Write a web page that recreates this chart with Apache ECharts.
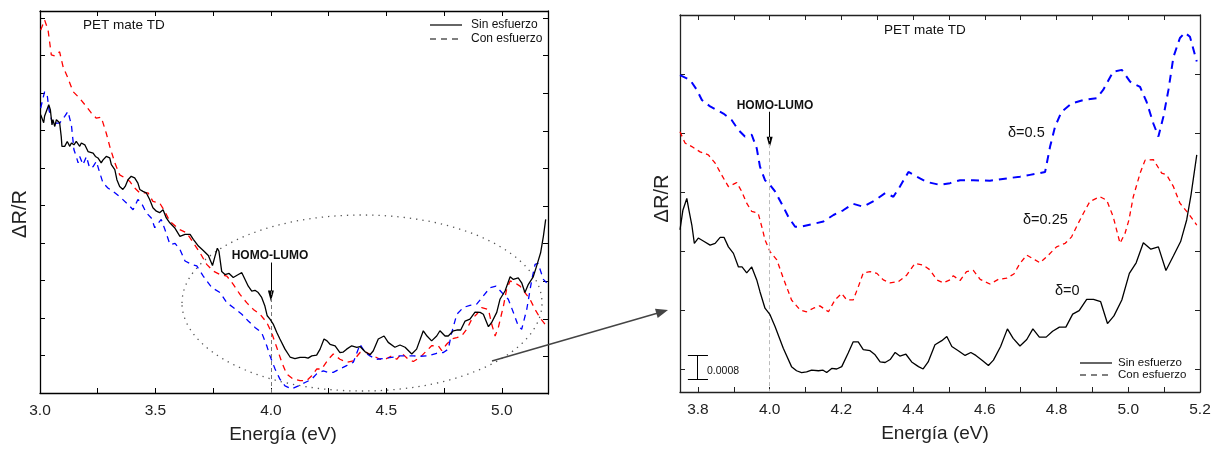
<!DOCTYPE html>
<html>
<head>
<meta charset="utf-8">
<script src="https://cdn.jsdelivr.net/npm/echarts@6/dist/echarts.min.js"></script>
<style>
html,body{margin:0;padding:0;background:#fff;}
#c{width:1226px;height:449px;}
</style>
</head>
<body>
<div id="c"></div>
<script>
// ---------- DATA (energy eV, ΔR/R arbitrary units) ----------
// Left panel: full spectrum
const leftSin = [[3.003,7.42],[3.016,7.21],[3.020,7.39],[3.038,7.69],[3.045,7.55],[3.052,7.15],[3.056,7.29],[3.064,7.11],[3.071,7.29],[3.085,7.21],[3.092,6.84],[3.095,6.58],[3.107,6.58],[3.118,6.71],[3.129,6.58],[3.136,6.67],[3.147,6.62],[3.157,6.71],[3.165,6.76],[3.172,6.58],[3.179,6.67],[3.194,6.62],[3.208,6.44],[3.230,6.40],[3.240,6.31],[3.251,6.27],[3.265,6.14],[3.273,6.22],[3.287,6.31],[3.302,6.27],[3.309,6.09],[3.324,5.96],[3.333,5.69],[3.345,5.51],[3.359,5.43],[3.369,5.51],[3.381,5.69],[3.395,5.78],[3.410,5.74],[3.424,5.60],[3.432,5.43],[3.446,5.38],[3.460,5.34],[3.475,5.16],[3.489,4.94],[3.504,4.85],[3.518,4.81],[3.533,4.89],[3.547,4.67],[3.562,4.54],[3.583,4.41],[3.606,4.18],[3.628,4.23],[3.650,4.23],[3.664,4.10],[3.686,3.92],[3.707,3.80],[3.729,3.67],[3.747,3.40],[3.758,3.65],[3.768,3.86],[3.775,3.78],[3.787,3.24],[3.801,3.16],[3.819,3.19],[3.837,3.08],[3.859,3.16],[3.874,3.21],[3.888,3.03],[3.902,2.85],[3.917,2.72],[3.931,2.74],[3.945,2.68],[3.960,2.55],[3.974,2.32],[3.984,2.06],[3.996,1.97],[4.010,1.84],[4.025,1.62],[4.039,1.44],[4.061,1.17],[4.083,0.96],[4.104,0.92],[4.126,0.95],[4.148,0.95],[4.161,0.93],[4.177,0.99],[4.198,1.01],[4.213,1.17],[4.230,1.44],[4.243,1.39],[4.256,1.30],[4.278,1.26],[4.299,1.08],[4.312,1.09],[4.328,1.17],[4.350,1.26],[4.372,1.22],[4.386,1.24],[4.408,1.10],[4.429,1.02],[4.443,1.12],[4.465,1.44],[4.490,1.52],[4.508,1.35],[4.537,1.22],[4.559,1.28],[4.581,1.22],[4.610,1.04],[4.631,1.17],[4.660,1.66],[4.676,1.52],[4.696,1.39],[4.718,1.52],[4.732,1.66],[4.754,1.52],[4.768,1.52],[4.790,1.66],[4.805,1.68],[4.822,1.68],[4.841,1.92],[4.862,1.97],[4.884,2.16],[4.906,2.15],[4.920,2.10],[4.942,1.77],[4.956,1.88],[4.978,2.15],[4.992,2.50],[5.014,2.72],[5.036,3.10],[5.050,3.03],[5.071,3.07],[5.086,2.94],[5.100,2.68],[5.115,2.90],[5.136,3.10],[5.151,3.39],[5.168,3.74],[5.180,4.18],[5.190,4.63]];
const leftConRed = [[3.003,9.68],[3.020,9.95],[3.035,9.68],[3.049,9.02],[3.064,8.99],[3.085,9.10],[3.100,8.70],[3.121,8.40],[3.143,8.04],[3.172,7.86],[3.201,7.64],[3.222,7.47],[3.244,7.33],[3.265,7.36],[3.287,6.93],[3.302,6.58],[3.324,6.14],[3.345,5.82],[3.367,5.74],[3.388,5.65],[3.410,5.47],[3.432,5.34],[3.468,5.34],[3.489,5.11],[3.518,5.07],[3.540,4.85],[3.562,4.58],[3.605,4.36],[3.635,4.27],[3.664,4.01],[3.693,3.74],[3.722,3.43],[3.751,3.25],[3.780,3.16],[3.809,3.12],[3.837,2.90],[3.866,2.63],[3.895,2.41],[3.924,2.23],[3.953,2.10],[3.982,1.88],[4.003,1.61],[4.025,1.22],[4.047,0.82],[4.068,0.51],[4.097,0.37],[4.126,0.33],[4.155,0.33],[4.177,0.46],[4.198,0.64],[4.220,0.64],[4.249,0.90],[4.270,1.04],[4.299,0.90],[4.328,0.82],[4.357,0.86],[4.386,1.08],[4.415,1.08],[4.443,0.99],[4.473,0.90],[4.502,0.92],[4.523,0.99],[4.545,0.90],[4.567,1.06],[4.595,0.90],[4.617,0.84],[4.646,0.95],[4.675,1.13],[4.696,1.26],[4.725,1.26],[4.740,1.13],[4.761,1.30],[4.783,1.44],[4.805,1.48],[4.826,1.52],[4.848,1.70],[4.870,1.97],[4.891,2.10],[4.913,2.28],[4.942,2.23],[4.956,1.84],[4.971,1.52],[4.985,1.75],[5.007,2.32],[5.021,2.77],[5.036,2.99],[5.057,2.94],[5.079,2.85],[5.100,2.68],[5.122,2.50],[5.144,2.23],[5.165,2.01],[5.190,1.81]];
const leftConBlue = [[3.003,7.60],[3.020,8.04],[3.032,7.91],[3.039,7.55],[3.056,7.15],[3.071,7.20],[3.085,7.20],[3.107,7.38],[3.121,7.51],[3.136,7.15],[3.147,6.49],[3.157,6.31],[3.165,6.14],[3.172,6.31],[3.186,6.09],[3.201,6.31],[3.215,6.00],[3.230,6.04],[3.244,6.18],[3.259,5.87],[3.273,5.60],[3.294,5.47],[3.324,5.34],[3.352,5.20],[3.381,5.03],[3.403,4.89],[3.424,5.16],[3.439,5.07],[3.460,4.81],[3.482,4.67],[3.497,4.41],[3.504,4.41],[3.525,4.63],[3.541,4.36],[3.563,3.96],[3.585,3.99],[3.606,3.83],[3.628,3.52],[3.657,3.43],[3.679,3.39],[3.707,3.12],[3.744,2.81],[3.780,2.68],[3.809,2.41],[3.837,2.28],[3.874,2.10],[3.902,1.92],[3.931,1.75],[3.960,1.61],[3.982,1.26],[3.996,0.99],[4.018,0.64],[4.039,0.37],[4.061,0.19],[4.090,0.11],[4.119,0.19],[4.148,0.28],[4.177,0.37],[4.198,0.51],[4.227,0.59],[4.249,0.55],[4.270,0.55],[4.299,0.64],[4.328,0.73],[4.357,0.82],[4.386,1.30],[4.408,1.08],[4.429,0.99],[4.458,0.90],[4.487,0.92],[4.523,0.95],[4.559,0.99],[4.588,0.99],[4.617,0.99],[4.646,0.98],[4.682,0.99],[4.718,1.06],[4.747,1.08],[4.768,1.17],[4.783,1.61],[4.805,2.10],[4.833,2.28],[4.862,2.34],[4.891,2.37],[4.920,2.59],[4.949,2.81],[4.975,2.85],[5.000,2.68],[5.028,2.50],[5.050,2.15],[5.071,1.79],[5.086,1.70],[5.108,2.23],[5.130,3.03],[5.144,3.43],[5.157,3.46],[5.180,3.03],[5.194,2.94]];

// Right panel: zoom, curves offset (1 unit = 0.002)
const rightSin = [[3.750,2.36],[3.758,2.69],[3.769,2.89],[3.775,2.69],[3.783,2.44],[3.790,2.13],[3.801,2.22],[3.815,2.17],[3.834,2.10],[3.848,2.13],[3.862,2.23],[3.873,2.23],[3.885,2.07],[3.899,1.96],[3.913,1.73],[3.923,1.73],[3.936,1.63],[3.950,1.73],[3.964,1.51],[3.973,1.31],[3.987,1.03],[4.001,0.92],[4.015,0.72],[4.038,0.35],[4.061,0.04],[4.075,-0.03],[4.089,-0.06],[4.103,-0.05],[4.117,-0.02],[4.136,-0.03],[4.149,-0.02],[4.159,-0.06],[4.173,0.01],[4.187,0.00],[4.201,0.04],[4.219,0.27],[4.233,0.46],[4.247,0.46],[4.261,0.33],[4.280,0.31],[4.294,0.24],[4.308,0.12],[4.322,0.11],[4.336,0.16],[4.350,0.28],[4.363,0.22],[4.380,0.25],[4.396,0.12],[4.415,0.04],[4.428,0.00],[4.442,0.12],[4.461,0.41],[4.480,0.48],[4.494,0.55],[4.508,0.38],[4.526,0.31],[4.545,0.23],[4.561,0.28],[4.575,0.23],[4.594,0.14],[4.610,0.06],[4.624,0.15],[4.644,0.38],[4.663,0.68],[4.679,0.52],[4.698,0.39],[4.717,0.50],[4.734,0.68],[4.752,0.54],[4.771,0.54],[4.789,0.64],[4.808,0.71],[4.826,0.71],[4.845,0.93],[4.863,0.99],[4.884,1.18],[4.903,1.18],[4.923,1.14],[4.942,0.77],[4.960,0.90],[4.982,1.17],[5.003,1.62],[5.022,1.80],[5.042,2.14],[5.063,2.03],[5.084,2.07],[5.105,1.67],[5.126,1.92],[5.146,2.16],[5.163,2.53],[5.175,2.95],[5.191,3.63]];
const rightConRed = [[3.750,4.02],[3.764,3.83],[3.783,3.77],[3.806,3.68],[3.829,3.63],[3.848,3.49],[3.866,3.29],[3.885,3.09],[3.908,3.16],[3.922,3.01],[3.936,2.81],[3.950,2.67],[3.968,2.64],[3.979,2.39],[3.987,2.19],[4.001,1.99],[4.020,1.85],[4.038,1.54],[4.061,1.17],[4.085,1.00],[4.103,0.97],[4.122,1.03],[4.140,1.07],[4.164,0.97],[4.182,1.17],[4.201,1.28],[4.215,1.17],[4.233,1.17],[4.247,1.39],[4.261,1.63],[4.280,1.65],[4.299,1.62],[4.317,1.51],[4.336,1.46],[4.359,1.48],[4.382,1.59],[4.405,1.79],[4.428,1.76],[4.447,1.68],[4.466,1.51],[4.484,1.46],[4.503,1.51],[4.512,1.58],[4.531,1.50],[4.549,1.65],[4.568,1.67],[4.587,1.52],[4.614,1.44],[4.638,1.52],[4.661,1.54],[4.681,1.61],[4.698,1.79],[4.717,1.93],[4.740,1.85],[4.754,1.80],[4.777,1.93],[4.800,2.07],[4.824,2.13],[4.842,2.24],[4.858,2.44],[4.875,2.64],[4.893,2.84],[4.921,2.92],[4.940,2.86],[4.958,2.58],[4.977,2.13],[4.991,2.30],[5.002,2.53],[5.014,2.92],[5.033,3.32],[5.047,3.54],[5.070,3.55],[5.093,3.32],[5.107,3.29],[5.126,3.09],[5.144,2.81],[5.167,2.64],[5.191,2.44]];
const rightConBlue = [[3.750,4.98],[3.778,4.90],[3.797,4.73],[3.811,4.56],[3.834,4.45],[3.871,4.33],[3.894,4.22],[3.913,4.05],[3.931,3.94],[3.950,3.97],[3.964,3.74],[3.973,3.43],[3.987,3.20],[4.001,3.12],[4.015,3.01],[4.038,2.75],[4.052,2.58],[4.071,2.41],[4.085,2.41],[4.122,2.46],[4.150,2.50],[4.178,2.61],[4.205,2.69],[4.233,2.80],[4.261,2.75],[4.294,2.86],[4.322,2.98],[4.345,2.92],[4.363,3.09],[4.387,3.34],[4.410,3.26],[4.438,3.17],[4.475,3.12],[4.503,3.15],[4.531,3.20],[4.568,3.20],[4.614,3.19],[4.661,3.23],[4.698,3.26],[4.726,3.29],[4.754,3.32],[4.768,3.34],[4.782,3.77],[4.796,4.11],[4.814,4.36],[4.842,4.50],[4.875,4.56],[4.912,4.59],[4.930,4.73],[4.958,5.04],[4.982,5.07],[5.005,4.87],[5.033,4.78],[5.051,4.53],[5.070,4.16],[5.084,3.94],[5.098,4.28],[5.112,4.73],[5.126,5.29],[5.144,5.61],[5.158,5.70],[5.172,5.63],[5.191,5.21]];

// Tick values / labels
const leftXTicks = [3.0,3.25,3.5,3.75,4.0,4.25,4.5,4.75,5.0];
const leftXLabels = [3.0,3.5,4.0,4.5,5.0];
const leftYTicks = [1,2,3,4,5,6,7,8,9,10];
const rightXTicks = [3.8,3.9,4.0,4.1,4.2,4.3,4.4,4.5,4.6,4.7,4.8,4.9,5.0,5.1,5.2];
const rightXLabels = [3.8,4.0,4.2,4.4,4.6,4.8,5.0,5.2];
const rightYTicks = [0,1,2,3,4,5,6];
const homoLumo = 4.0;
const scaleBarUnits = 0.4; // 0.0008 in ΔR/R

const FONT = '"Liberation Sans", Arial, sans-serif';
const chart = echarts.init(document.getElementById('c'), null, {renderer:'canvas'});

function xAxisCfg(grid, min, max, ticks, labels, pos, showLabels, color, namePad){
  return {
    type:'value', gridIndex:grid, min:min, max:max, position:pos,
    name: showLabels ? 'Energía (eV)' : '', nameLocation:'middle', nameGap:32,
    nameTextStyle:{fontFamily:FONT, fontSize:19, color:'#222', padding:namePad||0},
    axisLine:{show:true, onZero:false, lineStyle:{color:color, width:1.3}},
    axisTick:{show:true, inside:true, length:5, customValues:ticks, lineStyle:{color:color, width:1}},
    axisLabel:{show:showLabels, customValues:labels, margin:10, fontFamily:FONT, fontSize:15.5, color:'#222',
      formatter:v=>Number(v).toFixed(1)},
    splitLine:{show:false}
  };
}
function yAxisCfg(grid, min, max, ticks, pos, showName, gap, color, namePad){
  return {
    type:'value', gridIndex:grid, min:min, max:max, position:pos,
    name: showName ? 'ΔR/R' : '', nameLocation:'middle', nameGap:gap,
    nameTextStyle:{fontFamily:FONT, fontSize:20, color:'#222', padding:namePad||0},
    axisLine:{show:true, onZero:false, lineStyle:{color:color, width:1.3}},
    axisTick:{show:true, inside:true, length:5, customValues:ticks, lineStyle:{color:color, width:1}},
    axisLabel:{show:false},
    splitLine:{show:false}
  };
}

function lineSeries(name, data, xi, yi, color, width, dash, z){
  return {
    name:name, type:'line', xAxisIndex:xi, yAxisIndex:yi, data:data,
    showSymbol:false, symbol:'none', smooth:false, silent:true, z:z,
    lineStyle:{color:color, width:width, type:dash}
  };
}

const leftBlack = lineSeries('Sin esfuerzo', leftSin, 0, 0, '#000', 1.3, 'solid', 5);
leftBlack.markLine = {
  silent:true, animation:false, symbol:['none','none'], label:{show:false},
  data:[
    [{coord:[homoLumo,3.48], lineStyle:{color:'#000', width:1, type:'solid'}}, {coord:[homoLumo,2.72], symbol:'triangle', symbolSize:[6,11], symbolOffset:[0,-5]}],
    [{coord:[homoLumo,2.72], lineStyle:{color:'#777', width:1, type:[4,3]}}, {coord:[homoLumo,0]}]
  ]
};
const rightBlack = lineSeries('Sin esfuerzo', rightSin, 2, 2, '#000', 1.3, 'solid', 5);
rightBlack.markLine = {
  silent:true, animation:false, symbol:['none','none'], label:{show:false},
  data:[
    [{coord:[homoLumo,4.36], lineStyle:{color:'#000', width:1, type:'solid'}}, {coord:[homoLumo,3.93], symbol:'triangle', symbolSize:[6,11], symbolOffset:[0,-5]}],
    [{coord:[homoLumo,3.93], lineStyle:{color:'#bbb', width:1, type:[4,3]}}, {coord:[homoLumo,-0.39]}],
    [{coord:[3.797,-0.17], lineStyle:{color:'#000', width:1, type:'solid'}}, {coord:[3.797,-0.17+scaleBarUnits]}],
    [{coord:[3.772,-0.17], lineStyle:{color:'#000', width:1, type:'solid'}}, {coord:[3.828,-0.17]}],
    [{coord:[3.772,-0.17+scaleBarUnits], lineStyle:{color:'#000', width:1, type:'solid'}}, {coord:[3.828,-0.17+scaleBarUnits]}]
  ]
};

function txt(x, y, s, size, opts){
  return Object.assign({type:'text', x:x, y:y, silent:true, z:50,
    style:Object.assign({text:s, fontFamily:FONT, fontSize:size, fill:'#111', verticalAlign:'middle', align:'left'}, opts||{})});
}
function seg(x1,y1,x2,y2,dash,w,color){
  return {type:'line', silent:true, z:50, shape:{x1:x1,y1:y1,x2:x2,y2:y2},
    style:{stroke:color||'#000', lineWidth:w||1.2, lineDash:dash||null}};
}

const graphics = [
  // left panel texts & legend
  txt(83, 25, 'PET mate TD', 13.5),
  seg(430,25,462,25),
  seg(430,39,462,39,[6,5]),
  txt(471, 25, 'Sin esfuerzo', 12),
  txt(471, 39, 'Con esfuerzo', 12),
  txt(270, 256, 'HOMO-LUMO', 12, {align:'center', fontWeight:'bold'}),
  // dotted ellipse
  {type:'ellipse', silent:true, z:1, shape:{cx:362, cy:303, rx:180, ry:88},
   style:{fill:'none', stroke:'#555', lineWidth:1.3, lineDash:[1.3,5]}},
  // connecting arrow
  seg(492,361,658,313,null,1.5,'#444'),
  {type:'polygon', silent:true, z:50, shape:{points:[[668,310],[657.7,318],[655.0,308.8]]}, style:{fill:'#444'}},
  // right panel texts & legend
  txt(884, 30, 'PET mate TD', 13.5),
  txt(775, 106, 'HOMO-LUMO', 12, {align:'center', fontWeight:'bold'}),
  txt(1008, 133, 'δ=0.5', 14.5),
  txt(1023, 220, 'δ=0.25', 14.5),
  txt(1055, 291, 'δ=0', 14.5),
  txt(707, 371, '0.0008', 10.5),
  seg(1080,363,1112,363),
  seg(1080,375,1112,375,[6,5]),
  txt(1118, 363, 'Sin esfuerzo', 11.5),
  txt(1118, 375, 'Con esfuerzo', 11.5)
];

chart.setOption({
  animation:false,
  backgroundColor:'#fff',
  grid:[
    {left:40, right:678, top:11, bottom:55},
    {left:40, right:678, top:11, bottom:55},
    {left:680, right:26, top:15, bottom:57},
    {left:680, right:26, top:15, bottom:57}
  ],
  xAxis:[
    xAxisCfg(0, 3.0, 5.2, leftXTicks, leftXLabels, 'bottom', true, '#000', [0,22,0,0]),
    xAxisCfg(1, 3.0, 5.2, leftXTicks, leftXLabels, 'top', false, '#000'),
    xAxisCfg(2, 3.75, 5.2, rightXTicks, rightXLabels, 'bottom', true, '#222', [0,10,0,0]),
    xAxisCfg(3, 3.75, 5.2, rightXTicks, rightXLabels, 'top', false, '#222')
  ],
  yAxis:[
    yAxisCfg(0, 0, 10.19, leftYTicks, 'left', true, 10, '#000', [0,24,0,0]),
    yAxisCfg(1, 0, 10.19, leftYTicks, 'right', false, 0, '#000'),
    yAxisCfg(2, -0.39, 6.0, rightYTicks, 'left', true, 8, '#222', [0,0,0,10]),
    yAxisCfg(3, -0.39, 6.0, rightYTicks, 'right', false, 0, '#222')
  ],
  series:[
    lineSeries('Con esfuerzo', leftConRed, 0, 0, '#ff0000', 1.3, [6,5], 3),
    lineSeries('Con esfuerzo', leftConBlue, 0, 0, '#0000ff', 1.3, [6,5], 4),
    leftBlack,
    lineSeries('Con esfuerzo', rightConBlue, 2, 2, '#0000ff', 2, [8,6], 3),
    lineSeries('Con esfuerzo', rightConRed, 2, 2, '#ff0000', 1.3, [5,4], 4),
    rightBlack
  ],
  graphic: graphics
});
</script>
</body>
</html>
